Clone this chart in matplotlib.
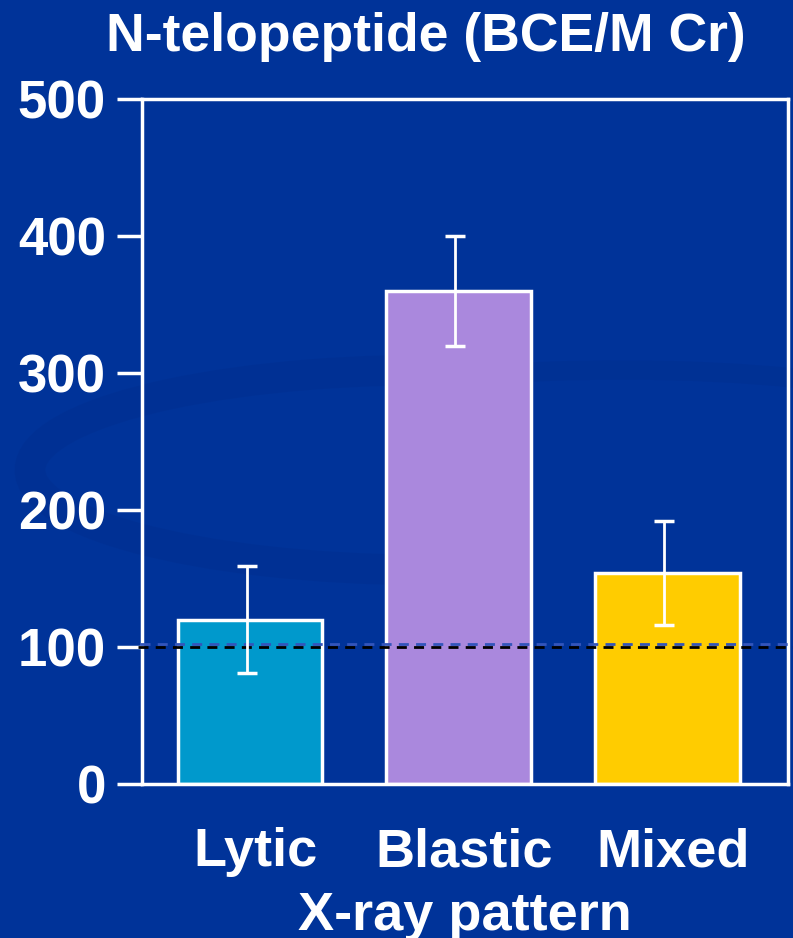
import numpy as np
import matplotlib.pyplot as plt
import matplotlib.patheffects as pe
import matplotlib.transforms as mtransforms
from matplotlib.patches import Arc

# N-telopeptide by X-ray pattern (mean with error bars)
categories = ["Lytic", "Blastic", "Mixed"]
means = [120, 360, 154]
errors = [39, 40, 38]
bar_colors = ["#0099CC", "#AA88DD", "#FFCC00"]
y_ticks = [0, 100, 200, 300, 400, 500]
reference_level = 100

BG = "#003399"
plt.rcParams["font.family"] = ["Liberation Sans", "DejaVu Sans"]
plt.rcParams["font.weight"] = "bold"

fig = plt.figure(figsize=(7.93, 9.38), dpi=100, facecolor=BG)

# faint background swirls
bg = fig.add_axes([0, 0, 1, 1])
bg.set_xlim(0, 793)
bg.set_ylim(938, 0)
bg.axis("off")
swirl = "#002e8e"
bg.add_patch(Arc((430, 470), 800, 200, theta1=95, theta2=290,
                 color=swirl, lw=22, alpha=0.45))
bg.add_patch(Arc((620, 420), 640, 100, theta1=200, theta2=350,
                 color=swirl, lw=14, alpha=0.4))
bg.add_patch(Arc((560, 1020), 1100, 300, theta1=20, theta2=160,
                 color=swirl, lw=26, alpha=0.35))

ax = fig.add_axes([0.179, 0.1642, 0.8147, 0.7303])
ax.set_facecolor("none")

x = np.arange(len(categories))
ax.bar(x, means, width=0.695, color=bar_colors, edgecolor="white",
       linewidth=2.5, zorder=2)
ax.errorbar(x - 0.015, means, yerr=errors, fmt="none", ecolor="white",
            elinewidth=2, capsize=7.5, capthick=2.5, zorder=4)

# reference line at the upper limit of normal, with a light blue drop shadow
ax.axhline(reference_level, xmin=-0.006, xmax=1.01, color="black", lw=2,
           dashes=(3.6, 2.6), zorder=3, clip_on=False,
           path_effects=[pe.SimpleLineShadow(offset=(1.5, 2.2),
                                             shadow_color="#3355bb", alpha=1),
                         pe.Normal()])

ax.set_xlim(-0.518, 2.58)
ax.set_ylim(0, 500)
ax.set_yticks(y_ticks)
ax.set_xticks(x)
ax.set_xticklabels(categories)
for s in ax.spines.values():
    s.set_color("white")
    s.set_linewidth(2.5)
ax.tick_params(axis="y", colors="white", length=18, width=2.5, pad=8,
               labelsize=38)
ax.tick_params(axis="x", colors="white", length=0, pad=31, labelsize=39)

# nudge category names a little to the right
shift = mtransforms.ScaledTranslation(6 / 100, 0, fig.dpi_scale_trans)
for lbl in ax.get_xticklabels():
    lbl.set_transform(lbl.get_transform() + shift)

ax.set_xlabel("X-ray pattern", color="white", fontsize=39, labelpad=10,
              fontweight="bold")

fig.text(426 / 793, 1 - 37 / 938, "N-telopeptide (BCE/M Cr)", color="white",
         fontsize=38.5, fontweight="bold", ha="center", va="center")

fig.savefig("out.png", dpi=100, facecolor=BG)
